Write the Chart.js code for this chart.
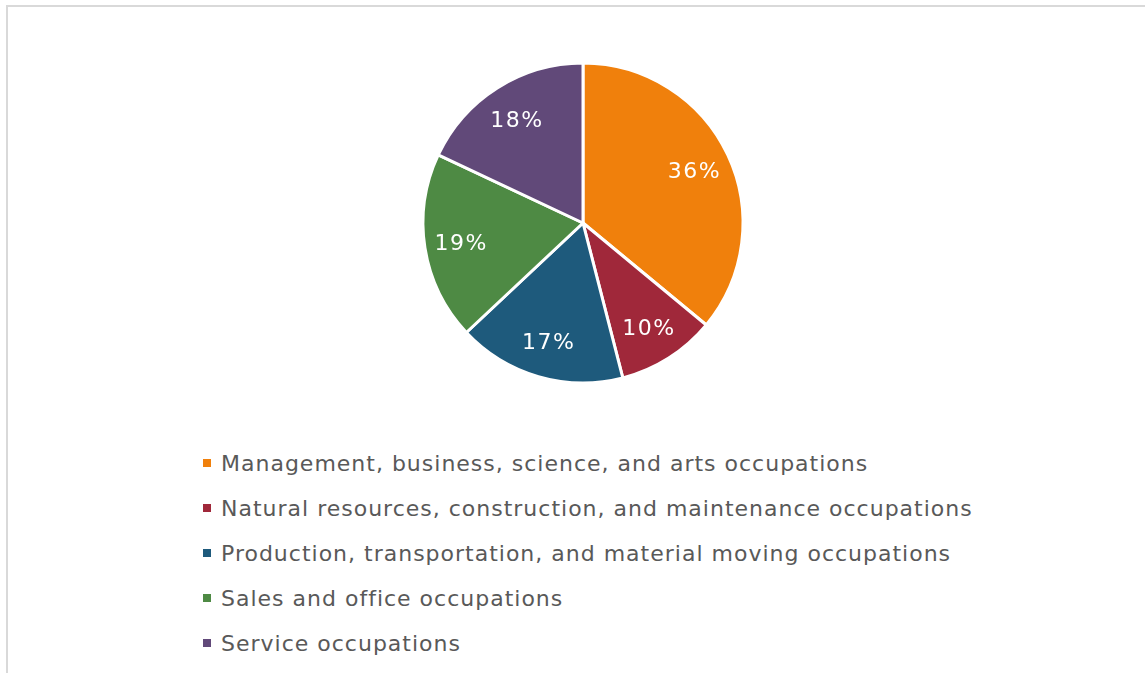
<!DOCTYPE html>
<html>
<head>
<meta charset="utf-8">
<script src="https://cdn.jsdelivr.net/npm/chart.js@4.4.1/dist/chart.umd.min.js"></script>
<style>
    html, body { margin: 0; padding: 0; background: #fff; overflow: hidden; }
    body { width: 1145px; height: 673px; position: relative; font-family: "DejaVu Sans", Verdana, sans-serif; }
    .frame {
        position: absolute; left: 6px; top: 5px; width: 1200px; height: 700px;
        border-left: 2px solid #d9d9d9; border-top: 2px solid #d9d9d9;
    }
    .pie-wrap { position: absolute; left: 403px; top: 43px; width: 360px; height: 360px; }
    #legend { position: absolute; left: 203px; top: 441px; margin: 0; padding: 0; list-style: none; }
    #legend li { height: 45px; line-height: 45px; font-size: 22px; letter-spacing: 1px; color: #595959; white-space: nowrap; }
    #legend .swatch { display: inline-block; width: 8px; height: 8px; margin-right: 10px; vertical-align: middle; position: relative; top: -2px; }
</style>
</head>
<body>
<div class="frame"></div>
<div class="pie-wrap"><canvas id="pieChart"></canvas></div>
<ul id="legend"></ul>
<script>
document.addEventListener('DOMContentLoaded', function () {
    const categories = [
        'Management, business, science, and arts occupations',
        'Natural resources, construction, and maintenance occupations',
        'Production, transportation, and material moving occupations',
        'Sales and office occupations',
        'Service occupations'
    ];
    const shares = [36, 10, 17, 19, 18];
    const sliceColors = ['#F0800C', '#A0283A', '#1E5A7C', '#4E8A44', '#614979'];

    // Percent labels inside each slice
    const sliceLabels = {
        id: 'sliceLabels',
        afterDatasetsDraw(chart) {
            const ctx = chart.ctx;
            const meta = chart.getDatasetMeta(0);
            ctx.save();
            ctx.font = '22px "DejaVu Sans", Verdana, sans-serif';
            ctx.letterSpacing = '1.5px';
            ctx.fillStyle = '#ffffff';
            ctx.textAlign = 'center';
            ctx.textBaseline = 'middle';
            meta.data.forEach((arc, i) => {
                const p = arc.getProps(['x', 'y', 'startAngle', 'endAngle', 'outerRadius'], true);
                const mid = (p.startAngle + p.endAngle) / 2;
                const r = p.outerRadius * 0.77;
                ctx.fillText(shares[i] + '%', p.x + Math.cos(mid) * r, p.y + Math.sin(mid) * r + 2);
            });
            ctx.restore();
        }
    };

    // HTML legend built from the chart's own legend items
    const htmlLegend = {
        id: 'htmlLegend',
        afterUpdate(chart) {
            const list = document.getElementById('legend');
            list.innerHTML = '';
            const items = chart.options.plugins.legend.labels.generateLabels(chart);
            items.forEach(item => {
                const li = document.createElement('li');
                const box = document.createElement('span');
                box.className = 'swatch';
                box.style.background = item.fillStyle;
                li.appendChild(box);
                li.appendChild(document.createTextNode(item.text));
                list.appendChild(li);
            });
        }
    };

    new Chart(document.getElementById('pieChart'), {
        type: 'pie',
        data: {
            labels: categories,
            datasets: [{
                data: shares,
                backgroundColor: sliceColors,
                borderColor: '#ffffff',
                borderWidth: 3
            }]
        },
        options: {
            responsive: true,
            maintainAspectRatio: false,
            animation: false,
            radius: 160,
            layout: { padding: 0 },
            plugins: {
                legend: { display: false },
                tooltip: { enabled: false }
            }
        },
        plugins: [sliceLabels, htmlLegend]
    });
});
</script>
</body>
</html>
